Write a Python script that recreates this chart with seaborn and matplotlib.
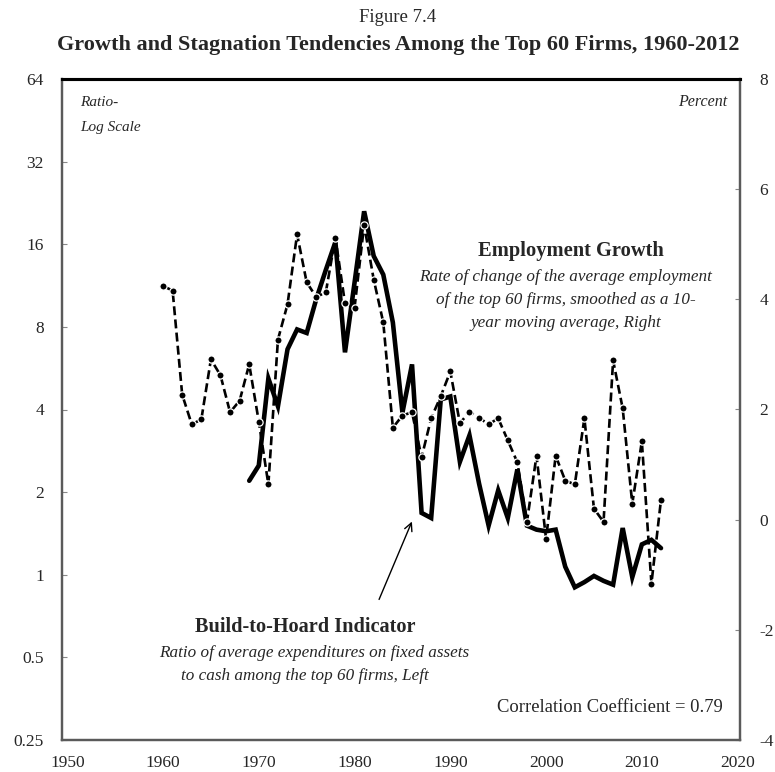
import matplotlib
matplotlib.use("Agg")
import matplotlib.pyplot as plt
import numpy as np
import pandas as pd
import seaborn as sns

# ---------------- data ----------------
emp_years = list(range(1960, 2013))
emp_growth = [4.24, 4.16, 2.27, 1.73, 1.82, 2.91, 2.62, 1.95, 2.16, 2.82,   # 1960-69
              1.78, 0.64, 3.27, 3.91, 5.18, 4.31, 4.04, 4.13, 5.12, 3.93,   # 1970-79
              3.85, 5.35, 4.36, 3.58, 1.67, 1.89, 1.95, 1.13, 1.84, 2.24,   # 1980-89
              2.69, 1.75, 1.96, 1.85, 1.73, 1.84, 1.44, 1.04, -0.04, 1.16,  # 1990-99
              -0.35, 1.16, 0.71, 0.64, 1.84, 0.20, -0.04, 2.89, 2.02, 0.29, # 2000-09
              1.42, -1.16, 0.36]                                            # 2010-12

bth_years = list(range(1969, 2013))
build_to_hoard = [2.20,                                                     # 1969
                  2.50, 5.19, 4.11, 6.63, 7.83, 7.60, 10.1, 12.9, 16.3, 6.46,  # 1970-79
                  11.6, 21.1, 14.5, 12.4, 8.3, 3.9, 5.84, 1.68, 1.61, 4.35,    # 1980-89
                  4.46, 2.58, 3.22, 2.15, 1.51, 2.03, 1.61, 2.42, 1.51, 1.46,  # 1990-99
                  1.44, 1.46, 1.07, 0.90, 0.94, 0.99, 0.95, 0.92, 1.48, 0.98,  # 2000-09
                  1.29, 1.34, 1.25]                                            # 2010-12

left_ticks = [0.25, 0.5, 1, 2, 4, 8, 16, 32, 64]
left_labels = ["0.25", "0.5", "1", "2", "4", "8", "16", "32", "64"]
right_ticks = [-4, -2, 0, 2, 4, 6, 8]
x_ticks = [1950, 1960, 1970, 1980, 1990, 2000, 2010, 2020]

df_emp = pd.DataFrame({"year": emp_years, "value": emp_growth})
df_bth = pd.DataFrame({"year": bth_years, "value": build_to_hoard})

# ---------------- style ----------------
sns.set_style("white")
plt.rcParams["font.family"] = ["Liberation Serif", "DejaVu Serif"]

W, H = 775, 772
fig = plt.figure(figsize=(W / 100, H / 100), dpi=100)
ax = fig.add_axes([62 / W, 1 - 740 / H, (740 - 62) / W, (740 - 79) / H])
ax2 = ax.twinx()

def fx(px):
    return px / W

def fy(py):
    return 1 - py / H

# left axis: build-to-hoard (log scale)
sns.lineplot(data=df_bth, x="year", y="value", ax=ax, color="black",
             linewidth=3.3, solid_joinstyle="miter", zorder=2)
ax.set_yscale("log", base=2)
ax.set_ylim(0.25, 64)
ax.set_yticks(left_ticks)
ax.set_yticklabels(left_labels)
ax.minorticks_off()

# right axis: employment growth
sns.lineplot(data=df_emp, x="year", y="value", ax=ax2, color="black",
             linewidth=1.9, linestyle=(0, (3.4, 1.6)), marker="o",
             markersize=5.2, markerfacecolor="black", markeredgecolor="white",
             markeredgewidth=0.9, zorder=3)
ax2.set_ylim(-4, 8)
ax2.set_yticks(right_ticks)
ax2.set_yticklabels([str(t) for t in right_ticks])

xlim0, xlim1 = 1949.45, 2020.25
ax.set_xlim(xlim0, xlim1)
ax.set_xticks(x_ticks)
ax.set_xticklabels([str(t) for t in x_ticks])
minor = [xlim0 + k * (xlim1 - xlim0) / 28 for k in range(1, 28)]
ax.set_xticks(minor, minor=True)

for a in (ax, ax2):
    a.set_xlabel("")
    a.set_ylabel("")
    for s in ("left", "right", "bottom"):
        a.spines[s].set_color("#5a5a5a")
        a.spines[s].set_linewidth(1.6)
    a.spines["top"].set_color("black")
    a.spines["top"].set_linewidth(2.2)

ax.tick_params(axis="x", which="major", length=0, pad=11, labelsize=12.5)
ax.tick_params(axis="x", which="minor", direction="in", length=3.5,
               width=0.8, color="#888888")
ax.tick_params(axis="y", which="major", direction="in", length=3.5,
               width=0.8, color="#888888", pad=13, labelsize=12.5)
ax2.tick_params(axis="y", which="major", direction="in", length=3.5,
                width=0.8, color="#888888", pad=14, labelsize=12.5)
ax.set_zorder(1)
ax2.set_zorder(2)
ax2.patch.set_visible(False)

# ---------------- text ----------------
fig.text(fx(398), fy(17), "Figure 7.4", ha="center", va="center", fontsize=13.5)
fig.text(fx(398), fy(45),
         "Growth and Stagnation Tendencies Among the Top 60 Firms, 1960-2012",
         ha="center", va="center", fontsize=16, fontweight="bold")

fig.text(fx(80), fy(102), "Ratio-", ha="left", va="center", fontsize=11, style="italic")
fig.text(fx(80), fy(128), "Log Scale", ha="left", va="center", fontsize=11, style="italic")
fig.text(fx(727), fy(102), "Percent", ha="right", va="center", fontsize=11.5, style="italic")

fig.text(fx(571), fy(251), "Employment Growth", ha="center", va="center",
         fontsize=14.8, fontweight="bold")
for i, line in enumerate(["Rate of change of the average employment",
                          "of the top 60 firms, smoothed as a 10-",
                          "year moving average, Right"]):
    fig.text(fx(566), fy(277 + 23 * i), line, ha="center", va="center",
             fontsize=12.3, style="italic")

fig.text(fx(305), fy(627), "Build-to-Hoard Indicator", ha="center", va="center",
         fontsize=14.6, fontweight="bold")
fig.text(fx(314), fy(653), "Ratio of average expenditures on fixed assets",
         ha="center", va="center", fontsize=12.3, style="italic")
fig.text(fx(305), fy(676), "to cash among the top 60 firms, Left",
         ha="center", va="center", fontsize=12.3, style="italic")

fig.text(fx(723), fy(707), "Correlation Coefficient = 0.79", ha="right",
         va="center", fontsize=13.4)

ax.annotate("", xy=(413, H - 519), xytext=(378, H - 602),
            xycoords="figure pixels", textcoords="figure pixels",
            arrowprops=dict(arrowstyle="->", lw=1.0, color="black",
                            mutation_scale=14))

fig.savefig("out.png", dpi=100)
